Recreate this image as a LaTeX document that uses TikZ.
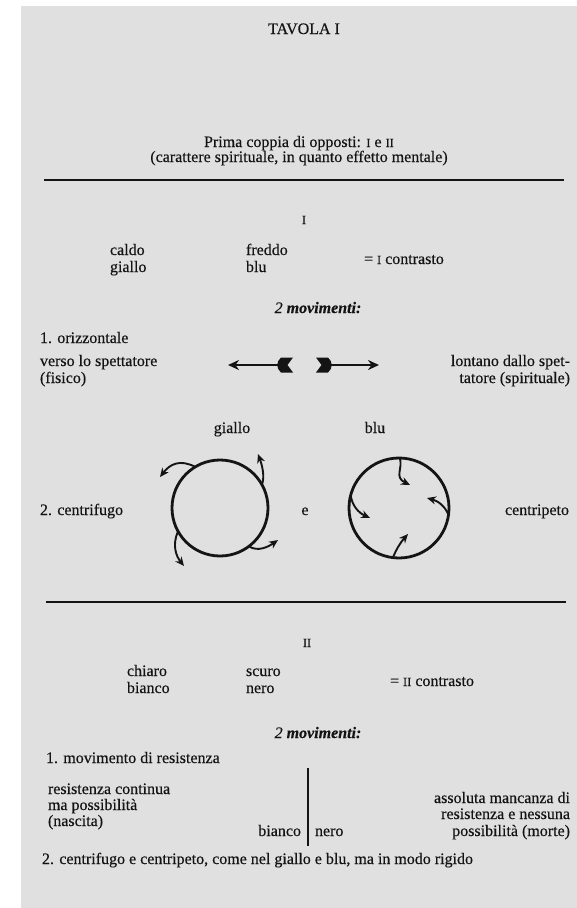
\documentclass[tikz,border=0pt]{standalone}
\usepackage{fontspec}
\setmainfont{Liberation Serif}[FakeBold=0.35]
\usetikzlibrary{arrows.meta}
\definecolor{paper}{HTML}{E0E0E0}
\definecolor{ink}{HTML}{141414}
% small capitals for the roman numerals
\newcommand\smc[1]{{\fontsize{12.5}{12.5}\selectfont #1}}

\begin{document}
\begin{tikzpicture}[x=1pt,y=-1pt,
  txt/.style={font=\fontsize{16}{16}\selectfont, text=ink, inner sep=0pt, outer sep=0pt},
  rule/.style={draw=ink, line width=1.9pt},
  ring/.style={circle, draw=ink, line width=2.8pt, inner sep=0pt, outer sep=0pt},
  curlarrow/.style={draw=ink, line width=1.9pt, -{Stealth[length=9pt,width=8pt]}},
  straightarrow/.style={draw=ink, line width=2.1pt, -{Stealth[length=11pt,width=10pt]}},
  fletch/.style={fill=ink}
]
\useasboundingbox (0,0) rectangle (577,908);
\fill[white] (0,0) rectangle (577,908);
\fill[paper] (21,6) rectangle (577,908);

% ---------- heading ----------
\node[txt, anchor=base] (title) at (304,34) {TAVOLA I};
\node[txt, anchor=base] (pair) at (299,147) {Prima coppia di opposti: \smc{I} e \smc{II}};
\node[txt, anchor=base] (pairnote) at (299,162) {(carattere spirituale, in quanto effetto mentale)};
\coordinate (r1a) at (44,180);
\coordinate (r1b) at (564,180);
\draw[rule] (r1a) -- (r1b);

% ---------- contrast I ----------
\node[txt, anchor=base] (numI) at (304,224) {\smc{I}};
\node[txt, anchor=base west] (caldo) at (110,255) {caldo};
\node[txt, anchor=base west] (gialloA) at (110,272) {giallo};
\node[txt, anchor=base west] (freddo) at (246,255) {freddo};
\node[txt, anchor=base west] (bluA) at (246,272) {blu};
\node[txt, anchor=base west] (contrI) at (364,264) {= \smc{I} contrasto};
\node[txt, anchor=base] (movI) at (318,313) {\textit{2 \textbf{movimenti:}}};

\node[txt, anchor=base west] (orizz) at (40,343) {1. orizzontale};
\node[txt, anchor=base west] (verso) at (40,366) {verso lo spettatore};
\node[txt, anchor=base west] (fisico) at (40,383) {(fisico)};
\node[txt, anchor=base east] (lontano) at (570,366) {lontano dallo spet-};
\node[txt, anchor=base east] (tatore) at (570,383) {tatore (spirituale)};

% horizontal arrows with fletched tails
\coordinate (lt) at (279,365);
\coordinate (lh) at (228,365);
\coordinate (rt) at (330,365);
\coordinate (rh) at (379,365);
\draw[straightarrow] (lt) -- (lh);
\draw[straightarrow] (rt) -- (rh);
\fill[fletch] (281,357.5) -- (293,357.5) -- (287.5,365) -- (293,372.5) -- (281,372.5)
  .. controls (276,368) and (276,362) .. (281,357.5);
\fill[fletch] (328,357.5) -- (316,357.5) -- (321.5,365) -- (316,372.5) -- (328,372.5)
  .. controls (333,368) and (333,362) .. (328,357.5);

% rotating movement
\node[txt, anchor=base] (gialloB) at (232,433) {giallo};
\node[txt, anchor=base] (bluB) at (375,433) {blu};
\node[txt, anchor=base west] (centrif) at (40,515) {2. centrifugo};
\node[txt, anchor=base] (e) at (305,515) {e};
\node[txt, anchor=base east] (centrip) at (569,515) {centripeto};

\node[ring, minimum size=96pt] (gc) at (220,508) {};
\node[ring, minimum size=100pt] (bc) at (399,508) {};

% centrifugal arrows (yellow)
\coordinate (g1) at (160,477);
\coordinate (g2) at (258,454);
\coordinate (g3) at (184,566);
\coordinate (g4) at (278,540);
\draw[curlarrow] (gc.121) .. controls (180,459) and (170,464) .. (g1);
\draw[curlarrow] (gc.29) .. controls (265,476) and (262,465) .. (g2);
\draw[curlarrow] (gc.209) .. controls (172,545) and (176,556) .. (g3);
\draw[curlarrow] (gc.307) .. controls (258,552) and (268,547) .. (g4);

% centripetal arrows (blue)
\coordinate (b1) at (410,485);
\coordinate (b2) at (370,518);
\coordinate (b3) at (427,498);
\coordinate (b4) at (408,534);
\draw[curlarrow] (bc.89) .. controls (403,469) and (394,477) .. (b1);
\draw[curlarrow] (bc.165) .. controls (352,506) and (359,513) .. (b2);
\draw[curlarrow] (bc.352) .. controls (445,506) and (438,501) .. (b3);
\draw[curlarrow] (bc.263) .. controls (396,550) and (400,543) .. (b4);

\coordinate (r2a) at (46,602);
\coordinate (r2b) at (566,602);
\draw[rule] (r2a) -- (r2b);

% ---------- contrast II ----------
\node[txt, anchor=base] (numII) at (307,647) {\smc{II}};
\node[txt, anchor=base west] (chiaro) at (127,676) {chiaro};
\node[txt, anchor=base west] (biancoA) at (127,693) {bianco};
\node[txt, anchor=base west] (scuro) at (246,676) {scuro};
\node[txt, anchor=base west] (neroA) at (246,693) {nero};
\node[txt, anchor=base west] (contrII) at (390,686) {= \smc{II} contrasto};
\node[txt, anchor=base] (movII) at (318,738) {\textit{2 \textbf{movimenti:}}};

\node[txt, anchor=base west] (resist) at (46,763) {1. movimento di resistenza};
\node[txt, anchor=base west] (cont1) at (48,794) {resistenza continua};
\node[txt, anchor=base west] (cont2) at (48,810) {ma possibilità};
\node[txt, anchor=base west] (cont3) at (48,826) {(nascita)};
\node[txt, anchor=base east] (biancoB) at (301,836) {bianco};
\node[txt, anchor=base west] (neroB) at (315,836) {nero};
\node[txt, anchor=base east] (ass1) at (570,803) {assoluta mancanza di};
\node[txt, anchor=base east] (ass2) at (570,819) {resistenza e nessuna};
\node[txt, anchor=base east] (ass3) at (570,836) {possibilità (morte)};
\coordinate (va) at (308,768);
\coordinate (vb) at (308,846);
\draw[draw=ink, line width=1.7pt] (va) -- (vb);

\node[txt, anchor=base west] (last) at (42,864) {2. centrifugo e centripeto, come nel giallo e blu, ma in modo rigido};
\end{tikzpicture}
\end{document}
